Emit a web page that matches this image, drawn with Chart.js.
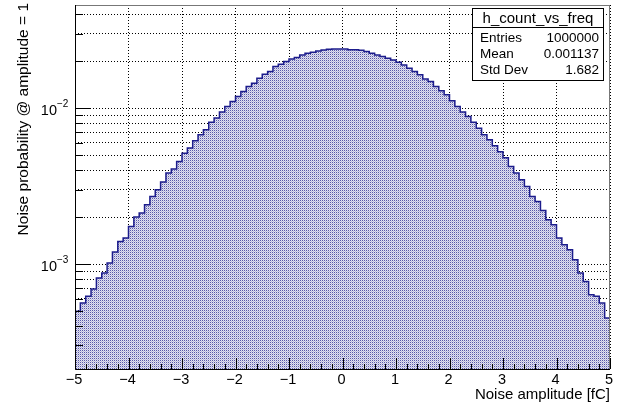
<!DOCTYPE html>
<html>
<head>
<meta charset="utf-8">
<script src="https://cdn.jsdelivr.net/npm/chart.js@4"></script>
<style>
  html, body { margin: 0; padding: 0; background: #fff; }
  canvas { display: block; }
</style>
</head>
<body>
<canvas id="histo" width="621" height="406"></canvas>
<script>
// h_count_vs_freq, 100 bins between -5 and 5 fC
const xMin = -5;
const xMax = 5;
const binContent = [
  4.97e-4, 5.62e-4, 6.20e-4, 6.91e-4, 8.13e-4, 8.76e-4, 1.015e-3, 1.193e-3, 1.396e-3, 1.468e-3,
  1.742e-3, 2.001e-3, 2.122e-3, 2.40e-3, 2.713e-3, 2.995e-3, 3.354e-3, 3.831e-3, 4.064e-3, 4.547e-3,
  5.145e-3, 5.54e-3, 6.17e-3, 6.74e-3, 7.26e-3, 8.13e-3, 8.63e-3, 9.43e-3, 1.024e-2, 1.102e-2,
  1.187e-2, 1.278e-2, 1.375e-2, 1.446e-2, 1.557e-2, 1.651e-2, 1.716e-2, 1.848e-2, 1.915e-2, 1.989e-2,
  2.07e-2, 2.11e-2, 2.196e-2, 2.252e-2, 2.286e-2, 2.33e-2, 2.364e-2, 2.389e-2, 2.40e-2, 2.40e-2,
  2.40e-2, 2.374e-2, 2.37e-2, 2.353e-2, 2.306e-2, 2.252e-2, 2.196e-2, 2.142e-2, 2.092e-2, 2.04e-2,
  1.972e-2, 1.895e-2, 1.804e-2, 1.716e-2, 1.635e-2, 1.541e-2, 1.481e-2, 1.375e-2, 1.291e-2, 1.217e-2,
  1.114e-2, 1.024e-2, 9.43e-3, 8.84e-3, 8.13e-3, 7.44e-3, 6.74e-3, 6.26e-3, 5.73e-3, 5.25e-3,
  4.80e-3, 4.22e-3, 3.831e-3, 3.47e-3, 3.14e-3, 2.713e-3, 2.52e-3, 2.206e-3, 1.923e-3, 1.786e-3,
  1.468e-3, 1.33e-3, 1.235e-3, 1.066e-3, 8.76e-4, 7.73e-4, 6.36e-4, 6.2e-4, 5.62e-4, 4.51e-4
];

const xTickValues = [-5, -4, -3, -2, -1, 0, 1, 2, 3, 4, 5];
const xTickLabels = ['\u22125', '\u22124', '\u22123', '\u22122', '\u22121', '0', '1', '2', '3', '4', '5'];
const yMin = 2.12e-4;
const yMax = 0.0459;
const yGridValues = [3e-4, 4e-4, 5e-4, 6e-4, 7e-4, 8e-4, 9e-4, 1e-3, 2e-3, 3e-3, 4e-3, 5e-3, 6e-3, 7e-3, 8e-3, 9e-3, 1e-2, 2e-2, 3e-2, 4e-2];
const yDecades = [1e-3, 1e-2];
const yDecadeExponents = ['\u22123', '\u22122'];

const xTitle = 'Noise amplitude [fC]';
const yTitle = 'Noise probability @ amplitude = 1';
const statsTitle = 'h_count_vs_freq';
const statsLabels = ['Entries', 'Mean', 'Std Dev'];
const statsValues = ['1000000', '0.001137', '1.682'];

const FONT = '"Liberation Sans", Arial, Helvetica, sans-serif';

// left edge of each bin, last point closes the final bin at xMax
const binWidth = (xMax - xMin) / binContent.length;
const points = binContent.map((v, i) => ({ x: xMin + i * binWidth, y: v }));
points.push({ x: xMax, y: binContent[binContent.length - 1] });

// ROOT like dotted fill
function makeFill() {
  const c = document.createElement('canvas');
  c.width = 2;
  c.height = 2;
  const g = c.getContext('2d');
  g.fillStyle = '#e2e2f0';
  g.fillRect(0, 0, 2, 2);
  g.fillStyle = '#5858a8';
  g.fillRect(0, 0, 1, 1);
  g.fillStyle = '#babadc';
  g.fillRect(1, 1, 1, 1);
  return g.createPattern(c, 'repeat');
}

// frame, inner ticks, labels and stats box
const rootFrame = {
  id: 'rootFrame',
  afterDraw(chart) {
    const { ctx, chartArea: a } = chart;
    const x = chart.scales.x;
    const y = chart.scales.y;
    ctx.save();

    // frame
    ctx.strokeStyle = '#777';
    ctx.lineWidth = 1;
    ctx.strokeRect(a.left + 0.5, a.top + 0.5, a.right - a.left - 1, a.bottom - a.top);
    ctx.strokeStyle = '#000';
    ctx.beginPath();
    ctx.moveTo(a.left + 0.5, a.top);
    ctx.lineTo(a.left + 0.5, a.bottom + 0.5);
    ctx.lineTo(a.right, a.bottom + 0.5);
    ctx.stroke();

    // x ticks every 0.2
    ctx.beginPath();
    for (let k = 0; k <= 50; k++) {
      const v = xMin + k * 0.2;
      const px = Math.round(x.getPixelForValue(v)) + 0.5;
      const len = k % 5 === 0 ? 11 : 5;
      ctx.moveTo(px, a.bottom);
      ctx.lineTo(px, a.bottom - len);
    }
    // y ticks
    yGridValues.forEach(v => {
      const py = Math.round(y.getPixelForValue(v)) + 0.5;
      const len = yDecades.includes(v) ? 15 : 8;
      ctx.moveTo(a.left, py);
      ctx.lineTo(a.left + len, py);
    });
    ctx.stroke();

    // x labels
    ctx.fillStyle = '#000';
    ctx.font = '14.5px ' + FONT;
    ctx.textAlign = 'center';
    ctx.textBaseline = 'alphabetic';
    xTickValues.forEach((v, i) => {
      ctx.fillText(xTickLabels[i], x.getPixelForValue(v) - 1, 384);
    });

    // y labels 10^n
    yDecades.forEach((v, i) => {
      const py = y.getPixelForValue(v);
      ctx.font = '14.5px ' + FONT;
      ctx.textAlign = 'right';
      ctx.fillText('10', 57, py + 7);
      ctx.font = '10px ' + FONT;
      ctx.textAlign = 'left';
      ctx.fillText(yDecadeExponents[i], 57, py - 1);
    });

    // axis titles
    ctx.font = '15px ' + FONT;
    ctx.textAlign = 'right';
    ctx.fillText(xTitle, a.right, 399);
    ctx.save();
    ctx.translate(28, a.top - 2);
    ctx.rotate(-Math.PI / 2);
    ctx.font = '15.5px ' + FONT;
    ctx.fillText(yTitle, 0, 0);
    ctx.restore();

    // stats box
    const bx = 472.5, by = 8.5, bw = 131, bh = 72;
    ctx.fillStyle = '#fff';
    ctx.fillRect(bx, by, bw, bh);
    ctx.strokeStyle = '#000';
    ctx.strokeRect(bx, by, bw, bh);
    ctx.beginPath();
    ctx.moveTo(bx, 27.5);
    ctx.lineTo(bx + bw, 27.5);
    ctx.stroke();
    ctx.fillStyle = '#000';
    ctx.font = '15px ' + FONT;
    ctx.textAlign = 'center';
    ctx.fillText(statsTitle, bx + bw / 2, 23);
    ctx.font = '13.5px ' + FONT;
    const rows = [41.5, 57.5, 74];
    statsLabels.forEach((lab, i) => {
      ctx.textAlign = 'left';
      ctx.fillText(lab, 480, rows[i]);
      ctx.textAlign = 'right';
      ctx.fillText(statsValues[i], 599, rows[i]);
    });

    ctx.restore();
  }
};

const ctx = document.getElementById('histo').getContext('2d');
new Chart(ctx, {
  type: 'line',
  data: {
    datasets: [{
      data: points,
      stepped: 'before',
      fill: 'start',
      backgroundColor: makeFill(),
      borderColor: '#1c1c8c',
      borderWidth: 1.5,
      pointRadius: 0
    }]
  },
  options: {
    responsive: false,
    animation: false,
    layout: { padding: { top: 5, right: 11, left: 0, bottom: 0 } },
    plugins: {
      legend: { display: false },
      tooltip: { enabled: false }
    },
    scales: {
      x: {
        type: 'linear',
        min: xMin,
        max: xMax,
        z: 1,
        ticks: { display: false },
        grid: { color: '#000', lineWidth: 1, drawTicks: false },
        border: { display: false, dash: [1, 2] },
        afterBuildTicks: s => { s.ticks = xTickValues.map(v => ({ value: v })); },
        afterFit: s => { s.height = 37; }
      },
      y: {
        type: 'logarithmic',
        min: yMin,
        max: yMax,
        z: 1,
        ticks: { display: false },
        grid: { color: '#000', lineWidth: 1, drawTicks: false },
        border: { display: false, dash: [1, 2] },
        afterBuildTicks: s => { s.ticks = yGridValues.map(v => ({ value: v })); },
        afterFit: s => { s.width = 75; }
      }
    }
  },
  plugins: [rootFrame]
});
</script>
</body>
</html>
